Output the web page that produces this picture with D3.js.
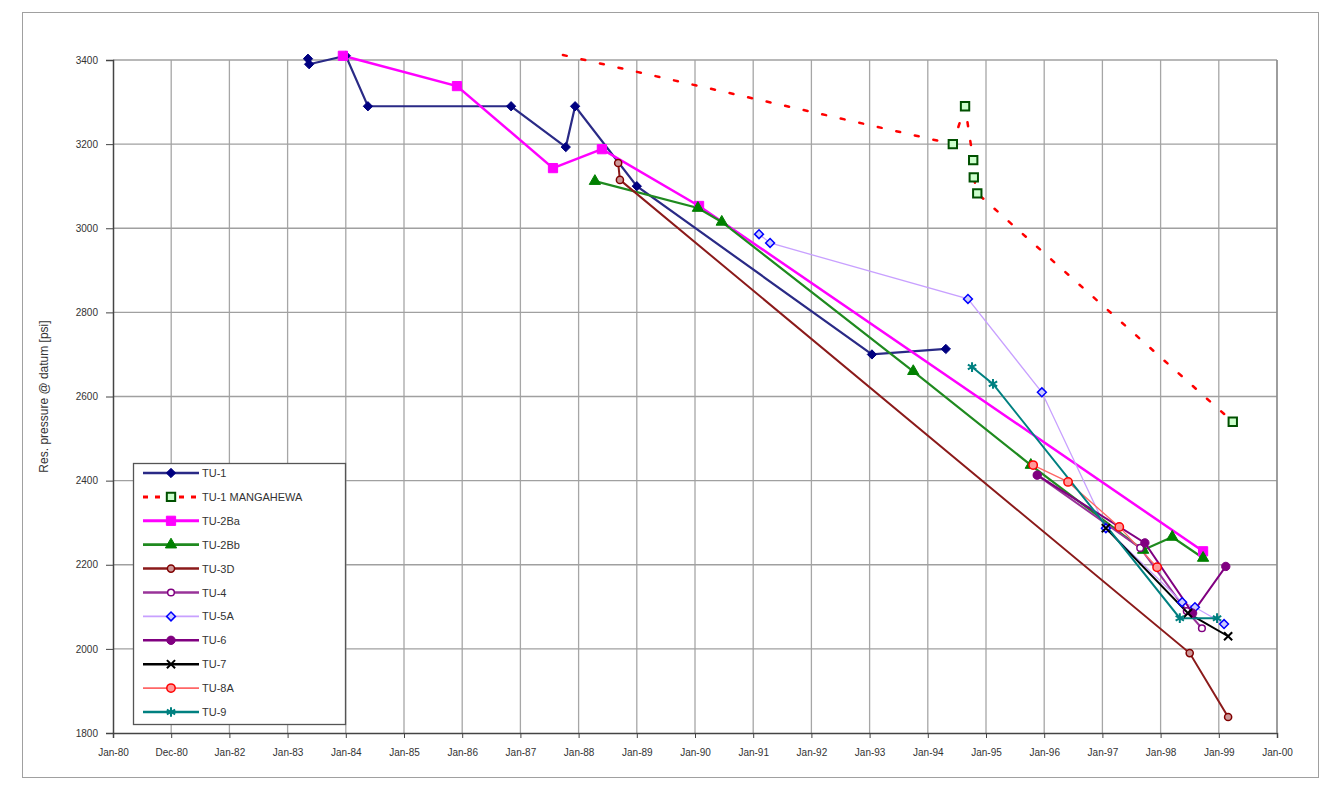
<!DOCTYPE html>
<html>
<head>
<meta charset="utf-8">
<script src="https://cdn.jsdelivr.net/npm/d3@7"></script>
<style>
  body { margin: 0; background: #fff; }
  svg { font-family: "Liberation Sans", Arial, sans-serif; }
</style>
</head>
<body>
<div id="chart"></div>
<script>
// Tick labels (one per year, Excel date axis)
const xTickYears = d3.range(1980, 2001);
const xTickLabels = ["Jan-80", "Dec-80", "Jan-82", "Jan-83", "Jan-84", "Jan-85", "Jan-86", "Jan-87",
    "Jan-88", "Jan-89", "Jan-90", "Jan-91", "Jan-92", "Jan-93", "Jan-94", "Jan-95", "Jan-96",
    "Jan-97", "Jan-98", "Jan-99", "Jan-00"];
const yTicks = [1800, 2000, 2200, 2400, 2600, 2800, 3000, 3200, 3400];

// Series values: [decimal year, pressure psi]
const tu1 = [[1983.35, 3403], [1983.37, 3390], [1984.0, 3410], [1984.38, 3290], [1986.84, 3290],
    [1987.78, 3193], [1987.94, 3290], [1989.0, 3100], [1993.04, 2700], [1994.31, 2713]];
const tu1Mangahewa = [[1987.73, 3412], [1994.43, 3200], [1994.64, 3290], [1994.78, 3162],
    [1994.79, 3121], [1994.85, 3083], [1999.24, 2540]];
const tu2Ba = [[1983.95, 3410], [1985.91, 3338], [1987.56, 3143], [1988.40, 3188], [1990.07, 3053],
    [1998.73, 2232]];
const tu2Bb = [[1988.28, 3112], [1990.05, 3048], [1990.46, 3015], [1993.75, 2660], [1995.77, 2437],
    [1997.70, 2235], [1998.20, 2266], [1998.73, 2216]];
const tu3D = [[1988.68, 3155], [1988.71, 3115], [1998.50, 1990], [1999.16, 1838]];
const tu4 = [[1995.88, 2413], [1997.65, 2240], [1998.45, 2090], [1998.71, 2049]];
const tu5A = [[1991.10, 2986], [1991.29, 2965], [1994.69, 2832], [1995.96, 2610], [1997.06, 2287],
    [1998.37, 2111], [1998.59, 2099], [1999.09, 2059]];
const tu6 = [[1995.88, 2413], [1997.73, 2252], [1998.55, 2085], [1999.12, 2196]];
const tu7 = [[1997.06, 2287], [1998.47, 2085], [1999.16, 2030]];
const tu8A = [[1995.81, 2437], [1996.41, 2397], [1997.29, 2290], [1997.94, 2194]];
const tu9 = [[1994.76, 2670], [1995.12, 2630], [1998.33, 2073], [1998.97, 2073]];

const seriesNames = ["TU-1", "TU-1  MANGAHEWA", "TU-2Ba", "TU-2Bb", "TU-3D", "TU-4", "TU-5A",
    "TU-6", "TU-7", "TU-8A", "TU-9"];
const seriesData = [tu1, tu1Mangahewa, tu2Ba, tu2Bb, tu3D, tu4, tu5A, tu6, tu7, tu8A, tu9];

// Styles for each series
const styles = [
    { line: "#2a2a86", width: 2.2, symbol: d3.symbolDiamond2, size: 55, fill: "#000080", stroke: "#000080" },
    { line: "#ff0000", width: 2.5, dash: "4,15", symbol: d3.symbolSquare, size: 70, fill: "#ccffcc", stroke: "#005000", sw: 2, hideFirst: true },
    { line: "#ff00ff", width: 2.5, symbol: d3.symbolSquare, size: 85, fill: "#ff00ff", stroke: "#ff00ff" },
    { line: "#1f8a1f", width: 2.2, symbol: d3.symbolTriangle, size: 55, fill: "#008000", stroke: "#008000" },
    { line: "#8b1a1a", width: 2, symbol: d3.symbolCircle, size: 40, fill: "#c99", stroke: "#800000", sw: 1.5 },
    { line: "#993399", width: 2, symbol: d3.symbolCircle, size: 35, fill: "#fff", stroke: "#800080", sw: 1.5 },
    { line: "#c8a0ff", width: 1.3, symbol: d3.symbolDiamond2, size: 50, fill: "#ccccff", stroke: "#0000ff", sw: 1.5 },
    { line: "#800080", width: 2, symbol: d3.symbolCircle, size: 55, fill: "#800080", stroke: "#800080" },
    { line: "#000000", width: 2, symbol: d3.symbolX, size: 45, fill: "none", stroke: "#000", sw: 2 },
    { line: "#ff6666", width: 1.3, symbol: d3.symbolCircle, size: 55, fill: "#ff9999", stroke: "#ff0000", sw: 1.5 },
    { line: "#008080", width: 2, symbol: d3.symbolAsterisk, size: 65, fill: "none", stroke: "#008080", sw: 2 }
];

const width = 1331, height = 792;
const plot = { left: 113, right: 1277, top: 60, bottom: 733 };

const svg = d3.select('#chart')
    .append('svg')
    .attr('width', width)
    .attr('height', height);

// Chart frame
svg.append('rect')
    .attr('x', 22.5).attr('y', 12.5)
    .attr('width', 1296).attr('height', 765)
    .attr('fill', '#fff')
    .attr('stroke', '#a0a0a0');

const x = d3.scaleLinear().domain([1980, 2000]).range([plot.left, plot.right]);
const y = d3.scaleLinear().domain([1800, 3400]).range([plot.bottom, plot.top]);

// Gridlines
svg.append('g')
    .selectAll('line')
    .data(xTickYears.slice(1))
    .enter().append('line')
    .attr('x1', d => x(d)).attr('x2', d => x(d))
    .attr('y1', plot.top).attr('y2', plot.bottom)
    .attr('stroke', '#a6a6a6').attr('stroke-width', 1.3);

svg.append('g')
    .selectAll('line')
    .data(yTicks.slice(1))
    .enter().append('line')
    .attr('x1', plot.left).attr('x2', plot.right)
    .attr('y1', d => y(d)).attr('y2', d => y(d))
    .attr('stroke', '#a0a0a0').attr('stroke-width', 1.3);

// Axes
const xAxis = d3.axisBottom(x)
    .tickValues(xTickYears)
    .tickSize(5)
    .tickFormat((d, i) => xTickLabels[i]);

const yAxis = d3.axisLeft(y)
    .tickValues(yTicks)
    .tickSize(7)
    .tickFormat(d => d);

const gx = svg.append('g')
    .attr('transform', `translate(0,${plot.bottom})`)
    .call(xAxis);
gx.select('.domain').attr('stroke', '#444').attr('stroke-width', 1.5);
gx.selectAll('.tick line').attr('stroke', '#444');
gx.selectAll('text').attr('font-size', 10).attr('fill', '#333').attr('dy', '1.5em');

const gy = svg.append('g')
    .attr('transform', `translate(${plot.left},0)`)
    .call(yAxis);
gy.select('.domain').attr('stroke', '#444').attr('stroke-width', 1.5);
gy.selectAll('.tick line').attr('stroke', '#444');
gy.selectAll('text').attr('font-size', 10).attr('fill', '#333').attr('x', -15);

// Right border of plot area
svg.append('line')
    .attr('x1', plot.right).attr('x2', plot.right)
    .attr('y1', plot.top).attr('y2', plot.bottom)
    .attr('stroke', '#888').attr('stroke-width', 1.3);

// Axis title
svg.append('text')
    .attr('transform', `translate(48,${(plot.top + plot.bottom) / 2}) rotate(-90)`)
    .attr('text-anchor', 'middle')
    .attr('font-size', 12)
    .attr('fill', '#333')
    .text('Res. pressure @ datum [psi]');

// Lines
const line = d3.line().x(d => x(d[0])).y(d => y(d[1]));

seriesData.forEach((data, i) => {
    const s = styles[i];
    svg.append('path')
        .datum(data)
        .attr('d', line)
        .attr('fill', 'none')
        .attr('stroke', s.line)
        .attr('stroke-width', s.width)
        .attr('stroke-dasharray', s.dash || null)
        .attr('stroke-linecap', s.dash ? 'round' : 'butt');
});

// Markers
seriesData.forEach((data, i) => {
    const s = styles[i];
    const sym = d3.symbol().type(s.symbol).size(s.size);
    svg.append('g')
        .selectAll('path')
        .data(s.hideFirst ? data.slice(1) : data)
        .enter().append('path')
        .attr('d', sym)
        .attr('transform', d => `translate(${x(d[0])},${y(d[1])})`)
        .attr('fill', s.fill)
        .attr('stroke', s.stroke)
        .attr('stroke-width', s.sw || 1);
});

// Legend
const legend = svg.append('g');
legend.append('rect')
    .attr('x', 133.5).attr('y', 463.5)
    .attr('width', 212).attr('height', 261)
    .attr('fill', '#fff')
    .attr('stroke', '#555')
    .attr('stroke-width', 1.3);

const legendRows = legend.selectAll('g.row')
    .data(seriesNames)
    .enter().append('g')
    .attr('class', 'row')
    .attr('transform', (d, i) => `translate(0,${473 + i * 23.9})`);

legendRows.append('line')
    .attr('x1', 143).attr('x2', 199)
    .attr('y1', 0).attr('y2', 0)
    .attr('stroke', (d, i) => styles[i].line)
    .attr('stroke-width', (d, i) => styles[i].width + 0.5)
    .attr('stroke-dasharray', (d, i) => styles[i].dash ? '5,7' : null);

legendRows.append('path')
    .attr('d', (d, i) => d3.symbol().type(styles[i].symbol).size(styles[i].size)())
    .attr('transform', 'translate(171,0)')
    .attr('fill', (d, i) => styles[i].fill)
    .attr('stroke', (d, i) => styles[i].stroke)
    .attr('stroke-width', (d, i) => styles[i].sw || 1);

legendRows.append('text')
    .attr('x', 202).attr('y', 4)
    .attr('font-size', 11)
    .attr('fill', '#333')
    .text(d => d);
</script>
</body>
</html>
